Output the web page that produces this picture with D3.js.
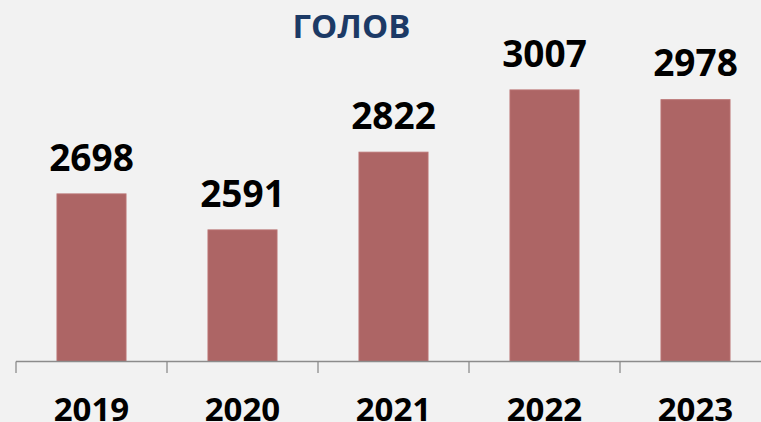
<!DOCTYPE html>
<html><head><meta charset="utf-8">
<script src="https://cdn.jsdelivr.net/npm/d3@7"></script>
<style>html,body{margin:0;padding:0;background:#f2f2f2;}svg{display:block;}</style>
</head><body>
<script>
const title = "ГОЛОВ";
const categories = ["2019","2020","2021","2022","2023"];
const values = [2698, 2591, 2822, 3007, 2978];
const yDomain = [2200, 3200];

const W = 761, H = 422;
const svg = d3.select("body").append("svg").attr("width", W).attr("height", H);
svg.append("rect").attr("width", W).attr("height", H).attr("fill", "#f2f2f2");

const baseY = 361.5;
const x = d3.scaleBand().domain(categories).range([16, 771]).padding(0);
const y = d3.scaleLinear().domain(yDomain).range([baseY, 25]);
const bw = x.bandwidth() * 0.457;

svg.append("text").attr("x", 351.5).attr("y", 38).attr("text-anchor", "middle")
  .attr("font-family", "'Open Sans', sans-serif").attr("font-weight", 700)
  .attr("font-size", 33).attr("fill", "#1c3a66").text(title);

const g = svg.append("g");
g.selectAll("rect.bar").data(categories).join("rect").attr("class", "bar")
  .attr("x", d => x(d) + (x.bandwidth() - bw) / 2)
  .attr("y", (d, i) => y(values[i]))
  .attr("width", bw)
  .attr("height", (d, i) => baseY - y(values[i]))
  .attr("fill", "#ad6565")
  .attr("stroke", "#b97272").attr("stroke-width", 1);

g.selectAll("text.val").data(categories).join("text").attr("class", "val")
  .attr("x", d => x(d) + x.bandwidth() / 2)
  .attr("y", (d, i) => y(values[i]) - 23.3)
  .attr("text-anchor", "middle")
  .attr("font-family", "'Open Sans', sans-serif").attr("font-weight", 700)
  .attr("font-size", 37).attr("fill", "#000")
  .text((d, i) => values[i]);

// axis
const ax = svg.append("g").attr("stroke", "#8c8c8c").attr("stroke-width", 1.3);
ax.append("line").attr("x1", x.range()[0]).attr("x2", W).attr("y1", baseY).attr("y2", baseY);
const tickXs = categories.map(d => x(d)).concat([x.range()[1]]);
ax.selectAll("line.tick").data(tickXs).join("line").attr("class", "tick")
  .attr("x1", d => d).attr("x2", d => d).attr("y1", baseY).attr("y2", baseY + 11.5);

svg.selectAll("text.cat").data(categories).join("text").attr("class", "cat")
  .attr("x", d => x(d) + x.bandwidth() / 2)
  .attr("y", 420.5)
  .attr("text-anchor", "middle")
  .attr("font-family", "'Open Sans', sans-serif").attr("font-weight", 700)
  .attr("font-size", 33).attr("fill", "#000")
  .text(d => d);
</script>
</body></html>
